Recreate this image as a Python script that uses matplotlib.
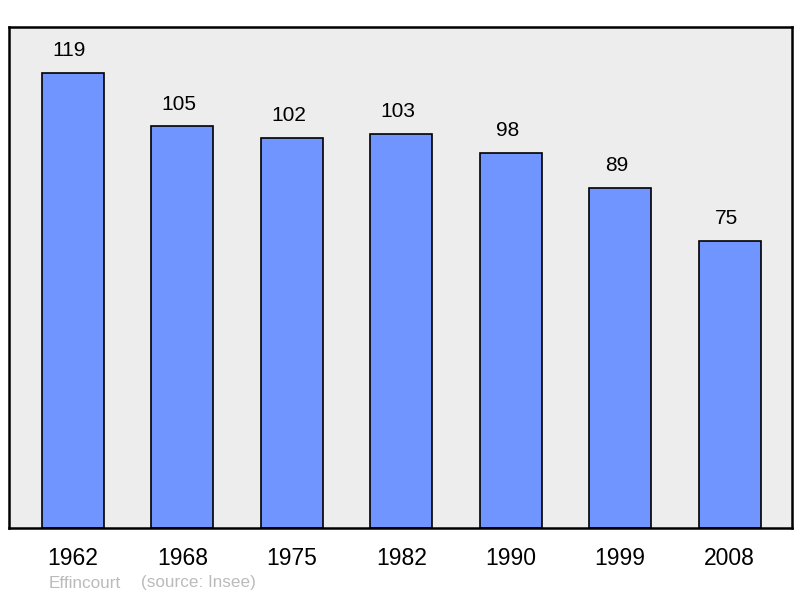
import matplotlib.pyplot as plt

annees = ["1962", "1968", "1975", "1982", "1990", "1999", "2008"]
population = [119, 105, 102, 103, 98, 89, 75]

plt.rcParams['font.family'] = ['Liberation Sans', 'DejaVu Sans']

fig = plt.figure(figsize=(8, 5.98), dpi=100)
ax = fig.add_axes([9 / 800, 70 / 598, 783 / 800, 501 / 598])
ax.set_facecolor('#ededed')

x = list(range(len(annees)))
ax.bar(x, population, width=0.567, color='#7095ff', edgecolor='black', linewidth=1.2)

# étiquettes de valeur, légèrement décalées vers la gauche comme l'original
for xi, v in zip(x, population):
    ax.annotate(str(v), (xi, v), xytext=(-2.5, 16), textcoords='offset points',
                ha='center', va='center', fontsize=15)

ax.set_xlim(-0.585, 6.57)
ax.set_ylim(0, 131)
ax.set_yticks([])
ax.set_xticks(x)
ax.set_xticklabels(annees, fontsize=16.5)
ax.tick_params(axis='x', length=0, pad=13.5)
for s in ax.spines.values():
    s.set_linewidth(1.8)

fig.text(49 / 800, 1 - 583 / 598, "Effincourt", color='#bbbbbb', fontsize=12.3, va='center')
fig.text(141 / 800, 1 - 583 / 598, "(source: Insee)", color='#bbbbbb', fontsize=12.3, va='center')

fig.savefig('out.png', dpi=100)
